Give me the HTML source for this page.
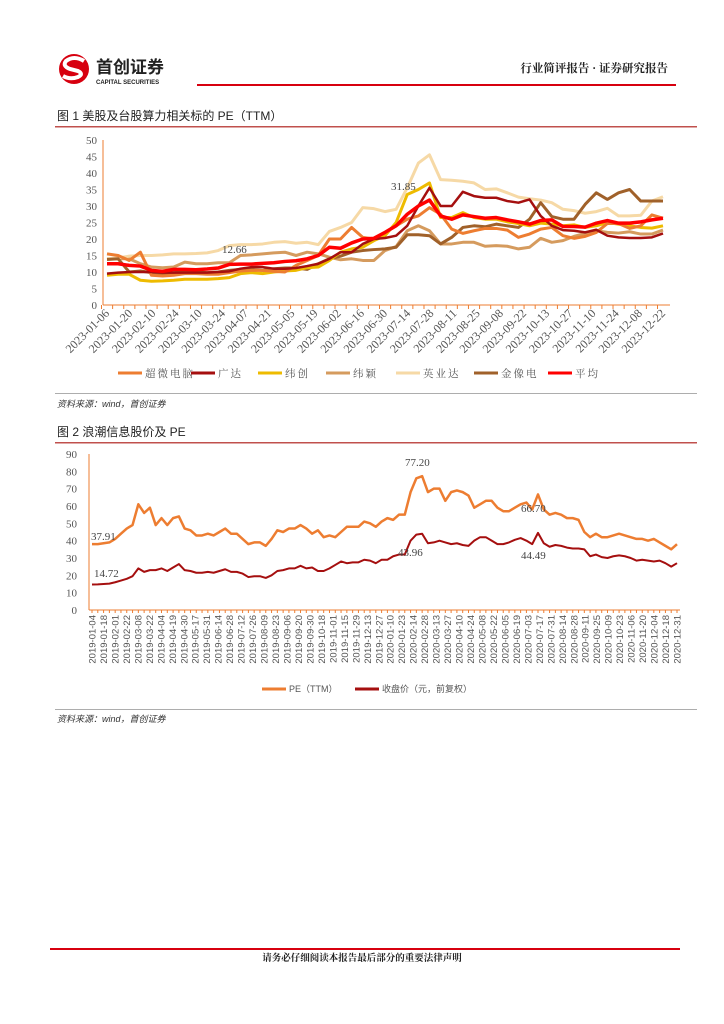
<!DOCTYPE html>
<html><head><meta charset="utf-8">
<style>
body{margin:0;background:#fff;}
svg{display:block;font-family:"Liberation Serif","Noto Serif CJK SC",serif;}
.cn{font-family:"Liberation Sans","Noto Sans CJK SC",sans-serif;}
</style></head>
<body>
<svg id="page" width="724" height="1024" viewBox="0 0 724 1024" xmlns="http://www.w3.org/2000/svg">
  <g>
    <g>
      <circle cx="74" cy="69" r="15" fill="#d7000f"/>
      <path d="M84 61 Q74 55 66 61 Q62 66 70 69 L78 71 Q84 74 78 77 Q70 80 63 76" fill="none" stroke="#fff" stroke-width="4"/>
      <text x="96" y="73" font-size="17" font-weight="bold" class="cn" fill="#222">首创证券</text>
      <text x="96" y="84" font-size="6" font-weight="bold" font-family="Liberation Sans" fill="#222">CAPITAL SECURITIES</text>
    </g>
    <text x="668" y="72" font-size="11.5" font-weight="bold" text-anchor="end" fill="#222">行业简评报告 · 证券研究报告</text>
    <rect x="197" y="84" width="479" height="2" fill="#d7000f"/>
  </g>
  <text x="57" y="120" font-size="12" class="cn" fill="#222">图 1 美股及台股算力相关标的 PE（TTM）</text>
  <rect x="55" y="126" width="642" height="1.5" fill="#c0504d"/>
  <g id="chart1"></g>
  <rect x="55" y="393" width="642" height="0.8" fill="#999"/>
  <text x="57" y="407" font-size="9" font-style="italic" class="cn" fill="#333">资料来源：wind，首创证券</text>

  <text x="57" y="436" font-size="12" class="cn" fill="#222">图 2 浪潮信息股价及 PE</text>
  <rect x="55" y="442" width="642" height="1.5" fill="#c0504d"/>
  <g id="chart2"></g>
  <rect x="55" y="709" width="642" height="0.8" fill="#999"/>
  <text x="57" y="722" font-size="9" font-style="italic" class="cn" fill="#333">资料来源：wind，首创证券</text>

  <rect x="50" y="948" width="630" height="2" fill="#d7000f"/>
  <text x="362" y="961" font-size="9.5" font-weight="bold" text-anchor="middle" fill="#222">请务必仔细阅读本报告最后部分的重要法律声明</text>
</svg>
<script>
const c1Labels=["2023-01-06","2023-01-20","2023-02-10","2023-02-24","2023-03-10","2023-03-24","2023-04-07","2023-04-21","2023-05-05","2023-05-19","2023-06-02","2023-06-16","2023-06-30","2023-07-14","2023-07-28","2023-08-11","2023-08-25","2023-09-08","2023-09-22","2023-10-13","2023-10-27","2023-11-10","2023-11-24","2023-12-08","2023-12-22"];
const c1Ticks=[0,5,10,15,20,25,30,35,40,45,50];
const sCWDN=[15.5,15,13.5,16,9,8.8,9,9.5,9.5,9.3,9.3,9.8,10.3,10.5,10.5,10.2,10,12,13.5,15,20,20,23.5,20.5,20,22,24,26,27,29.5,27.5,23,21.7,22.5,23.2,23.2,22.7,20.5,21.5,23,23.5,21,20.2,20.8,22,24.7,24.7,23.2,24,27.3,26.3];
const sGD=[9.5,9.8,10,10,10,9.8,9.8,9.8,9.8,9.8,10,10.2,11,11.5,11.5,11,11,11.2,11.8,12.5,14,16,16,18.5,20,20.3,21,24,30,35.5,30,30,34.3,33,32.5,32.5,31.5,31,32,27,24,22.7,22.5,22,22.8,21,20.5,20.3,20.3,20.5,21.7];
const sWC=[9,9.3,9.3,7.5,7.2,7.3,7.5,7.8,7.8,7.8,8,8.3,9.5,9.8,9.5,10,10.3,10.5,11.3,11.5,13.5,16,17,17.5,19.5,21,25,33.5,35,37,26.5,26.5,28,26.5,26,26,25.2,24.7,24,24.8,24.5,24,24.3,23.5,24,25,24.5,24,23.5,23.3,24];
const sWY=[14,14,14,12.5,11.5,11.3,11.5,13,12.5,12.5,12.8,12.8,15,15.2,15.5,15.8,16,15,16,15.5,14.5,13.7,14,13.5,13.5,16.5,17.7,22.5,24,22.5,18.5,18.5,19,19,17.8,18,17.8,17,17.5,20.2,19,19.5,20.8,21.7,22.5,22,21.8,22.2,21.5,21.5,22.7];
const sYYD=[14,14.3,14.8,15,15,15.2,15.5,15.5,15.6,15.8,16.5,18,18.3,18.3,18.5,19,19.2,18.7,19,18.3,22.3,23.5,25,29.5,29.2,28.3,29,35.5,43,45.5,38,37.8,37.5,37,35,35.2,34,32.7,32.2,31.8,31,29,28.6,27.8,28.3,29.3,27,27,27.2,31.5,32.8];
const sJXD=[13.8,14,10,10.3,9.8,9.5,9.8,10,10,9.8,10,10.5,10.8,10.8,10.5,11,11.2,11.2,10.8,12.5,14,14.8,16,16.5,16.8,17,17.5,21.3,21.3,21,18.5,20.5,23.5,24,23.7,24.5,24,23.5,26,31,26.8,26,26,30.5,34,32,34,35,31.5,31.5,31.5];
const sAVG=[12.5,12.5,12,11.8,10.5,10.2,10.8,10.8,10.7,10.9,11.2,12.3,12.4,12.4,12.6,12.8,13.2,13.4,14,15,17.5,17.2,18.8,20,20.2,22,24,27.5,30,31.8,27,26,27.3,26.8,26.3,26.5,25.8,25.2,24.5,25.6,25.8,23.8,23.8,23.6,24.8,25.6,24.8,24.8,25.2,25.8,26.3];
const c1Names=["超微电脑","广达","纬创","纬颖","英业达","金像电","平均"];

const c2Labels=["2019-01-04","2019-01-18","2019-02-01","2019-02-22","2019-03-08","2019-03-22","2019-04-04","2019-04-19","2019-04-30","2019-05-17","2019-05-31","2019-06-14","2019-06-28","2019-07-12","2019-07-26","2019-08-09","2019-08-23","2019-09-06","2019-09-20","2019-09-30","2019-10-18","2019-11-01","2019-11-15","2019-11-29","2019-12-13","2019-12-27","2020-01-10","2020-01-23","2020-02-14","2020-02-28","2020-03-13","2020-03-27","2020-04-10","2020-04-24","2020-05-08","2020-05-22","2020-06-05","2020-06-19","2020-07-03","2020-07-17","2020-07-31","2020-08-14","2020-08-28","2020-09-11","2020-09-25","2020-10-09","2020-10-23","2020-11-06","2020-11-20","2020-12-04","2020-12-18","2020-12-31"];
const c2Ticks=[0,10,20,30,40,50,60,70,80,90];
const sPE=[38,38,38.5,39,41,44,47,49,61,56,59,49,53,49,53,54,47,46,43,43,44,43,45,47,44,44,41,38,39,39,37,41,46,45,47,47,49,47,44,46,42,43,42,45,48,48,48,51,50,48,51,53,52,55,55,68,76,77.2,68,70,70,63,68,69,68,66,59,61,63,63,59,57,57,59,61,62,58,66.7,58,55,56,55,53,53,52,45,42,44,42,42,43,44,43,42,41,41,40,41,39,37,35,38];
const sPrice=[14.72,14.8,15,15.2,16,17,18,19.5,24,22,23,23,24,22.5,24.5,26.5,23,22.5,21.5,21.5,22,21.5,22.5,23.5,22,22,21,19,19.5,19.5,18.5,20,22.5,23,24,24,25.5,24,24.5,22.5,22.5,24,26,28,27,27.5,27.5,29,28.5,27,29,29,31,32,32,40,43.5,43.96,38.5,39,40,39,38,38.5,37.5,37,40,42,42,40,38,38,39,40.5,41.5,40,38,44.49,38.5,36.5,37.5,37,36,35.5,35.5,35,31,32,30.5,30,31,31.5,31,30,28.5,29,28.5,28,28.5,27,25,27];
const c2Names=["PE（TTM）","收盘价（元，前复权）"];

const NS="http://www.w3.org/2000/svg";
function mk(tag,attrs,parent){const e=document.createElementNS(NS,tag);for(const k in attrs)e.setAttribute(k,attrs[k]);parent.appendChild(e);return e;}

// Chart 1
(function(){
  const g=document.getElementById('chart1');
  const X0=103,X1=670,Y0=305,Y1=140,xa=107,xb=663;
  const y=v=>Y0-(v-0)/50*(Y0-Y1);
  const n=sAVG.length;
  const x=i=>xa+i*(xb-xa)/(n-1);
  c1Ticks.forEach(t=>{
    const tx=mk('text',{x:X0-6,y:y(t)+4,'font-size':11,'text-anchor':'end',fill:'#555'},g);
    tx.textContent=t;
    
    
  });
  mk('line',{x1:X0,y1:Y1,x2:X0,y2:Y0,stroke:'#ED7D31','stroke-width':1},g);
  mk('line',{x1:X0,y1:Y0,x2:X1,y2:Y0,stroke:'#ED7D31','stroke-width':1},g);
  for(let i=0;i<n;i++){mk('line',{x1:x(i)-5.5,y1:Y0,x2:x(i)-5.5,y2:Y0+4,stroke:'#ED7D31'},g);}
  const m=c1Labels.length;
  c1Labels.forEach((l,j)=>{
    const px=xa+j*(xb-xa)/(m-1)+3,py=Y0+9;
    const tx=mk('text',{x:px,y:py,'font-size':12,'text-anchor':'end',fill:'#555',transform:`rotate(-45 ${px} ${py})`},g);
    tx.textContent=l;
    
    
  });
  const series=[[sWY,'#D59B5E',3],[sYYD,'#F6D9A6',3],[sJXD,'#A0612A',3],[sWC,'#EEBB00',3],[sCWDN,'#ED7D31',3],[sGD,'#A50F0F',2.5],[sAVG,'#FF0000',3.5]];
  const nameIdx=[3,4,5,2,0,1,6];
  series.forEach((s,k)=>{
    const p=mk('polyline',{points:s[0].map((v,i)=>x(i)+','+y(v)).join(' '),fill:'none',stroke:s[1],'stroke-width':s[2],'stroke-linejoin':'round'},g);
    
    
  });
  const a=mk('text',{x:222,y:253,'font-size':11,fill:'#444'},g);a.textContent='12.66';
  
  const b=mk('text',{x:391,y:190,'font-size':11,fill:'#444'},g);b.textContent='31.85';
  
  const cols=['#ED7D31','#A50F0F','#EEBB00','#D59B5E','#F6D9A6','#A0612A','#FF0000'];
  const lx=[145,218,285,353,423,501,575];
  c1Names.forEach((nm,k)=>{
    const lg=mk('g',{},g);
    
    
    mk('line',{x1:lx[k]-27,y1:373,x2:lx[k]-3,y2:373,stroke:cols[k],'stroke-width':3},lg);
    const t=mk('text',{x:lx[k],y:377,'font-size':10.5,fill:'#555','letter-spacing':'2'},lg);t.textContent=nm;
  });
})();

// Chart 2
(function(){
  const g=document.getElementById('chart2');
  const X0=89,X1=680,Y0=610,Y1=454,xa=92,xb=677;
  const y=v=>Y0-v/90*(Y0-Y1);
  const n=sPE.length;
  const x=i=>xa+i*(xb-xa)/(n-1);
  c2Ticks.forEach(t=>{
    const tx=mk('text',{x:X0-12,y:y(t)+4,'font-size':11,'text-anchor':'end',fill:'#555'},g);
    tx.textContent=t;
    
    
  });
  mk('line',{x1:X0,y1:Y1,x2:X0,y2:Y0,stroke:'#ED7D31'},g);
  mk('line',{x1:X0,y1:Y0,x2:X1,y2:Y0,stroke:'#ED7D31'},g);
  for(let i=0;i<n;i++){mk('line',{x1:x(i),y1:Y0,x2:x(i),y2:Y0+3,stroke:'#ED7D31'},g);}
  const m=c2Labels.length;
  c2Labels.forEach((l,j)=>{
    const px=xa+j*(xb-xa)/(m-1)+3.5,py=Y0+5;
    const tx=mk('text',{x:px,y:py,'font-size':9.5,'text-anchor':'end',fill:'#555','font-family':'Liberation Sans',transform:`rotate(-90 ${px} ${py})`},g);
    tx.textContent=l;
    
    
  });
  const p1=mk('polyline',{points:sPE.map((v,i)=>x(i)+','+y(v)).join(' '),fill:'none',stroke:'#ED7D31','stroke-width':2.5,'stroke-linejoin':'round'},g);
  
  const p2=mk('polyline',{points:sPrice.map((v,i)=>x(i)+','+y(v)).join(' '),fill:'none',stroke:'#A50F0F','stroke-width':2,'stroke-linejoin':'round'},g);
  
  [['37.91',91,540],['14.72',94,577],['77.20',405,466],['43.96',398,556],['66.70',521,512],['44.49',521,559]].forEach(a=>{
    const t=mk('text',{x:a[1],y:a[2],'font-size':11,fill:'#444'},g);t.textContent=a[0];
    
  });
  [[289,'#ED7D31',c2Names[0]],[382,'#A50F0F',c2Names[1]]].forEach(e=>{
    const lg=mk('g',{},g);
    
    
    mk('line',{x1:e[0]-27,y1:689,x2:e[0]-3,y2:689,stroke:e[1],'stroke-width':3},lg);
    const t=mk('text',{x:e[0],y:692,'font-size':9,fill:'#555','font-family':'Liberation Sans, Noto Sans CJK SC, sans-serif'},lg);t.textContent=e[2];
  });
})();
</script>
</body></html>
